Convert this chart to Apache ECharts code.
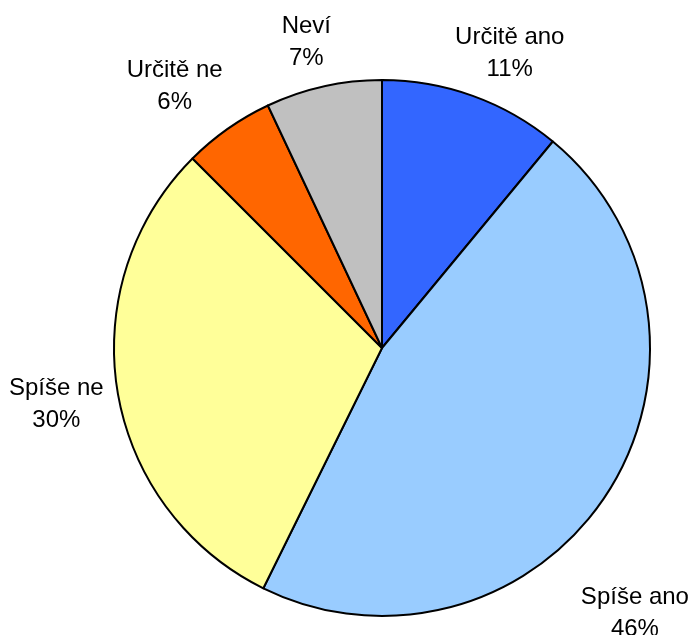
<!DOCTYPE html>
<html>
<head>
<meta charset="utf-8">
<script src="https://cdn.jsdelivr.net/npm/echarts@6/dist/echarts.min.js"></script>
<style>
    html, body { margin: 0; padding: 0; background: #fff; }
    #chart { width: 692px; height: 635px; }
</style>
</head>
<body>
<div id="chart"></div>
<script>
var categories = ['Určitě ano', 'Spíše ano', 'Spíše ne', 'Určitě ne', 'Neví'];
var values = [11.0, 46.3, 30.2, 5.5, 7.0];
var colors = ['#3366FF', '#99CCFF', '#FFFF99', '#FF6600', '#C0C0C0'];

// small nudges of each label away from the default outside anchor
var labelShift = [[18, 10], [-19, 89], [-6, 4], [-21, 3], [-5, 11]];

var myChart = echarts.init(document.getElementById('chart'));

var data = categories.map(function (name, i) {
    return { name: name, value: values[i], itemStyle: { color: colors[i] } };
});

option = {
    animation: false,
    series: [{
        type: 'pie',
        center: [382, 348],
        radius: 268,
        startAngle: 90,
        clockwise: true,
        avoidLabelOverlap: false,
        silent: true,
        data: data,
        itemStyle: {
            borderColor: '#000',
            borderWidth: 2
        },
        label: {
            show: true,
            position: 'outside',
            fontFamily: '"Liberation Sans", Arial, sans-serif',
            fontSize: 24,
            lineHeight: 32,
            color: '#000',
            formatter: function (p) {
                return p.name + '\n' + Math.round(p.percent) + '%';
            }
        },
        labelLine: {
            show: true,
            length: 56,
            length2: 0,
            lineStyle: { opacity: 0 }
        },
        labelLayout: function (params) {
            var s = labelShift[params.dataIndex] || [0, 0];
            var pts = params.labelLinePoints;
            var x, y;
            if (pts && pts[1]) {
                x = pts[1][0];
                y = pts[1][1];
            } else {
                x = params.labelRect.x + params.labelRect.width / 2;
                y = params.labelRect.y + params.labelRect.height / 2;
            }
            return {
                x: x + s[0],
                y: y + s[1],
                align: 'center',
                verticalAlign: 'middle'
            };
        }
    }]
};

myChart.setOption(option);
</script>
</body>
</html>
